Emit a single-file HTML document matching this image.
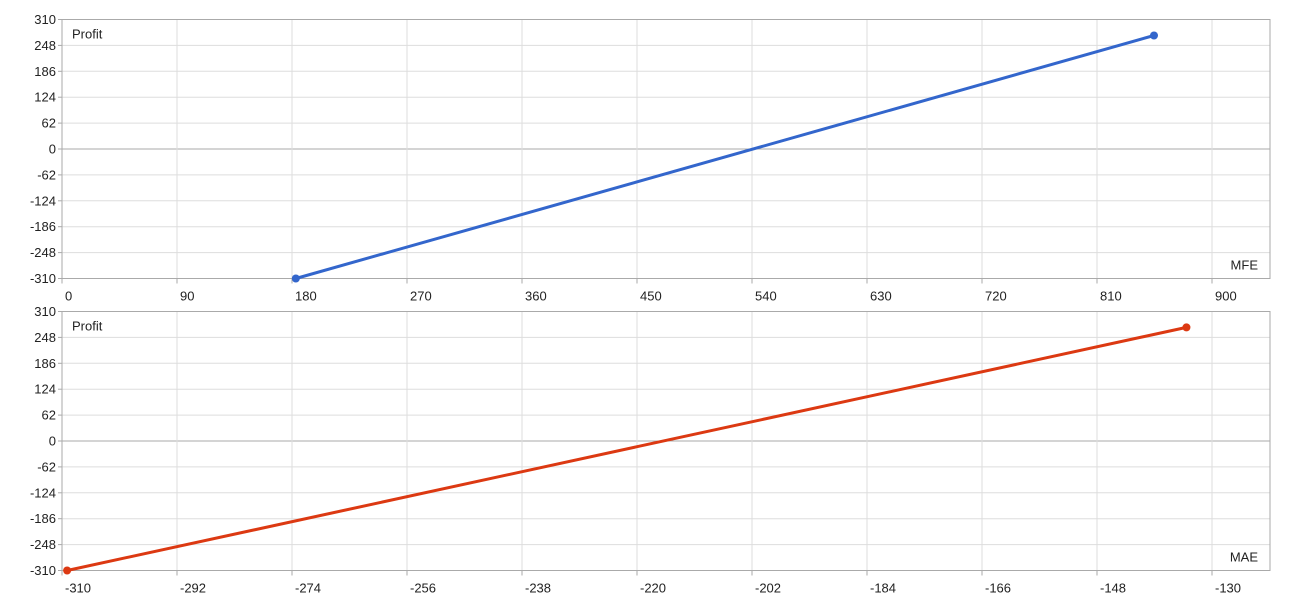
<!DOCTYPE html>
<html><head><meta charset="utf-8"><style>
body{margin:0;background:#fff;font-family:"Liberation Sans",Arial,sans-serif}
svg text{font-family:"Liberation Sans",Arial,sans-serif;font-size:13px;fill:#222}
</style></head><body>
<svg id="c" width="1290" height="600"></svg>
<script>
const yTicks=[310,248,186,124,62,0,-62,-124,-186,-248,-310];
const mfeTicks=[0,90,180,270,360,450,540,630,720,810,900];
const maeTicks=[-310,-292,-274,-256,-238,-220,-202,-184,-166,-148,-130];
const mfeX=[183,854.6];
const mfeY=[-310,271.7];
const maeX=[-309.2,-134];
const maeY=[-310,272];
const svg=document.getElementById('c');
const NS='http://www.w3.org/2000/svg';
function mk(t,a){const e=document.createElementNS(NS,t);for(const k in a)e.setAttribute(k,a[k]);svg.appendChild(e);return e;}
const L=62,R=1270;
function panel(top,bot,xt,xmin,xstep,xs,ys,color,label,nm){
  const sx=v=>L+(v-xmin)/xstep*115;
  const sy=v=>top+(310-v)/620*(bot-top);
  yTicks.forEach(v=>{
    const y=sy(v);
    const g=mk('line',{x1:L,x2:R,y1:y,y2:y,stroke:v===0?'#aaa':'#ddd','stroke-width':1});
    
    
    const t=mk('text',{x:L-6,y:y+4.5,'text-anchor':'end'});t.textContent=v;
    
    
    const tk=mk('line',{x1:L-4,x2:L,y1:y,y2:y,stroke:'#aaa'});
    
    
  });
  xt.forEach(v=>{
    const x=sx(v);
    if(x>L+1&&x<R){const g=mk('line',{x1:x,x2:x,y1:top,y2:bot,stroke:'#ddd'});
    
    }
    const tk=mk('line',{x1:x,x2:x,y1:bot,y2:bot+5,stroke:'#aaa'});
    
    
    const t=mk('text',{x:x+3,y:bot+22});t.textContent=v;
    
    
  });
  const b=mk('rect',{x:L,y:top,width:R-L,height:bot-top,fill:'none',stroke:'#aaa'});
  
  
  const p=mk('text',{x:72,y:top+19});p.textContent='Profit';
  
  
  const xl=mk('text',{x:R-12,y:bot-9,'text-anchor':'end',fill:label==='MFE'?'#8b1a1a':'#222'});xl.textContent=label;
  
  
  const pts=xs.map((v,i)=>sx(v)+','+sy(ys[i])).join(' ');
  const ln=mk('polyline',{points:pts,fill:'none',stroke:color,'stroke-width':3});
  
  
  xs.forEach((v,i)=>{const c=mk('circle',{cx:sx(v),cy:sy(ys[i]),r:4,fill:color});
    
    });
}
panel(19.5,278.5,mfeTicks,0,90,mfeX,mfeY,'#3366cc','MFE','mfe');
panel(311.5,570.5,maeTicks,-310,18,maeX,maeY,'#dc3912','MAE','mae');
</script>
</body></html>
